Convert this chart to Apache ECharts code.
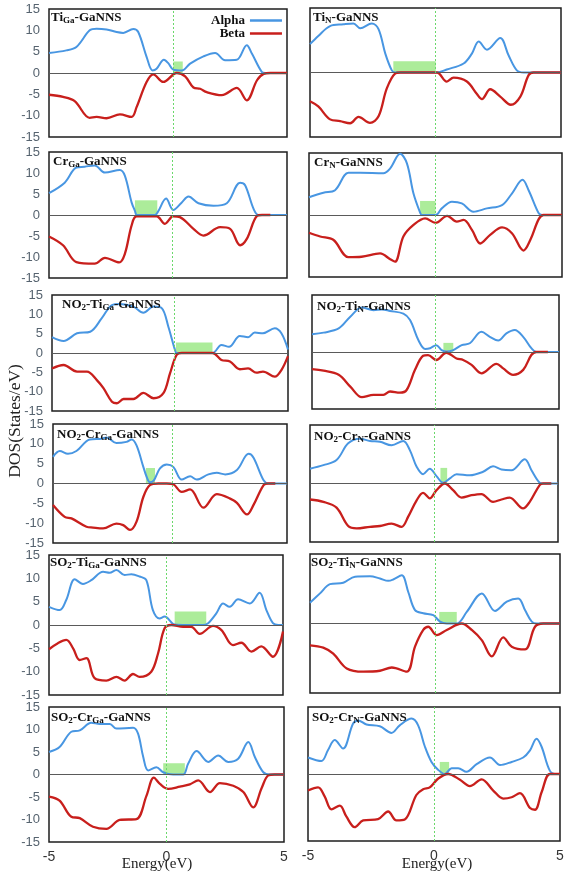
<!DOCTYPE html>
<html><head><meta charset="utf-8">
<script src="https://cdn.jsdelivr.net/npm/echarts@6/dist/echarts.min.js"></script>
<style>html,body{margin:0;padding:0;background:#fff}#c{width:567px;height:876px}</style>
</head><body><div id="c"></div>
<script>
// ---------------- DATA ----------------
const panelTitles = [
  'Ti{s|Ga}-GaNNS', 'Ti{s|N}-GaNNS',
  'Cr{s|Ga}-GaNNS', 'Cr{s|N}-GaNNS',
  'NO{b|2}-Ti{s|Ga}-GaNNS', 'NO{b|2}-Ti{s|N}-GaNNS',
  'NO{b|2}-Cr{s|Ga}-GaNNS', 'NO{b|2}-Cr{s|N}-GaNNS',
  'SO{b|2}-Ti{s|Ga}-GaNNS', 'SO{b|2}-Ti{s|N}-GaNNS',
  'SO{b|2}-Cr{s|Ga}-GaNNS', 'SO{b|2}-Cr{s|N}-GaNNS'
];
const seriesNames = ['Alpha', 'Beta'];
const yTickMin = -15, yTickMax = 15, yTickStep = 5;
const xTickMin = -5, xTickMax = 5, xTickStep = 5;
const fermiLevels = [0.2, 0, 0.18, 0, 0.18, 0, 0.1, 0, 0, 0, 0, 0];
const gapStart = [0.22, -1.68, -1.39, -0.61, 0.25, 0.32, -1.03, 0.26, 0.37, 0.17, -0.14, 0.23];
const gapEnd   = [0.62, 0.01, -0.45, 0.0, 1.8, 0.72, -0.64, 0.53, 1.72, 0.87, 0.78, 0.6];
const gapTop   = [2.7, 2.6, 3.5, 3.4, 2.7, 2.4, 3.9, 4.0, 2.9, 2.5, 2.5, 2.7];

const alphaTiGa = [[-5,4.7],[-4.27,5.3],[-3.85,6.1],[-3.29,10.0],[-3.0,10.4],[-2.58,10.2],[-2.16,9.6],[-1.88,9.4],[-1.46,10.3],[-1.25,9.6],[-0.9,3.8],[-0.65,0.6],[-0.48,1.0],[-0.17,3.1],[0.01,2.3],[0.22,0.8],[0.58,0.6],[0.93,2.2],[1.49,3.9],[1.98,4.7],[2.4,3.0],[2.89,3.1],[3.31,6.5],[3.53,4.5],[3.95,0.2],[4.09,0],[5,0]];
const betaTiGa = [[-5,-5.1],[-4.41,-5.6],[-3.92,-6.6],[-3.29,-10.5],[-3.0,-10.3],[-2.58,-10.6],[-2.02,-9.7],[-1.53,-10.3],[-1.32,-8.0],[-0.9,-2.1],[-0.62,-0.3],[-0.2,-2.1],[0.37,0],[0.72,-0.8],[1.07,-3.4],[1.35,-3.7],[1.63,-4.5],[2.26,-5.2],[2.89,-3.5],[3.31,-6.4],[3.74,-1.7],[4.02,-0.2],[4.3,0],[5,0]];

const alphaTiN = [[-5,6.6],[-4.67,8.5],[-4.2,10.8],[-3.67,11.2],[-3.27,11.4],[-3.0,10.3],[-2.54,11.4],[-2.27,10.1],[-2.0,4.4],[-1.74,0.5],[-1.6,0],[0.05,0],[0.45,0.7],[1.12,2.1],[1.45,4.4],[1.72,7.2],[2.05,5.3],[2.58,8.0],[2.91,4.0],[3.24,0.5],[3.51,0],[5,0]];
const betaTiN = [[-5,-6.7],[-4.67,-7.9],[-4.2,-10.9],[-3.8,-11.3],[-3.4,-11.8],[-3.07,-10.3],[-2.61,-11.7],[-2.27,-10.2],[-1.94,-3.7],[-1.6,-0.2],[-1.4,0],[0.05,0],[0.45,-2.1],[0.72,-1.2],[1.25,-2.1],[1.65,-5.0],[1.85,-6.2],[2.18,-3.9],[2.58,-5.6],[3.0,-7.5],[3.38,-5.6],[3.71,-0.6],[3.91,0],[5,0]];

const alphaCrGa = [[-5,5.2],[-4.34,7.7],[-3.85,11.3],[-3.5,11.5],[-3.08,11.8],[-2.65,10.1],[-2.02,10.7],[-1.81,9.3],[-1.53,3.0],[-1.39,1.0],[-1.3,0],[-0.55,0],[-0.42,0.8],[-0.08,3.9],[0.22,1.2],[0.58,3.0],[0.86,4.4],[1.28,2.8],[1.91,2.2],[2.47,2.8],[3.03,7.7],[3.24,7.1],[3.6,1.4],[3.81,0],[5,0]];
const betaCrGa = [[-5,-5.1],[-4.41,-7.2],[-3.85,-11.2],[-3.08,-11.6],[-2.65,-10.2],[-2.05,-11.3],[-1.81,-9.2],[-1.53,-2.5],[-1.32,-0.3],[-0.48,-0.3],[-0.13,-2.1],[0.22,-0.3],[0.5,-0.5],[1.07,-3.3],[1.49,-4.9],[2.19,-2.9],[2.61,-3.3],[3.03,-7.2],[3.31,-5.7],[3.74,-0.2],[3.95,0],[4.3,0]];

const alphaCrN = [[-5,4.3],[-4.43,5.4],[-3.97,6.0],[-3.44,10.2],[-2.98,10.2],[-2.06,10.1],[-1.79,11.3],[-1.4,14.8],[-1.13,12.5],[-0.87,5.2],[-0.61,0.6],[-0.54,0],[0.01,0],[0.25,1.6],[0.65,3.2],[1.04,2.8],[1.5,0.8],[2.03,1.6],[2.63,2.4],[3.02,5.2],[3.44,8.5],[3.68,6.0],[4.08,0.4],[4.21,0],[5,0]];
const betaCrN = [[-5,-4.3],[-4.56,-5.2],[-4.04,-6.0],[-3.44,-10.2],[-2.92,-10.1],[-2.19,-9.3],[-1.79,-10.7],[-1.6,-11.3],[-1.27,-5.2],[-0.87,-2.4],[-0.41,-0.8],[0.0,-1.9],[0.46,-0.2],[0.84,-1.6],[1.11,-1.2],[1.44,-3.6],[1.77,-6.9],[2.16,-4.8],[2.63,-3.0],[3.02,-4.4],[3.48,-8.6],[3.75,-6.0],[4.08,-1.0],[4.27,0],[5,0]];

const alphaNO2TiGa = [[-5,4.1],[-4.51,3.1],[-3.94,5.1],[-3.38,5.5],[-2.89,9.0],[-2.46,12.4],[-2.11,12.7],[-1.55,12.0],[-1.13,10.4],[-0.7,12.0],[-0.35,11.6],[-0.07,6.8],[0.21,0.8],[0.28,0],[1.8,0],[2.18,2.1],[2.5,1.6],[2.96,4.4],[3.31,4.1],[3.59,5.3],[3.94,5.1],[4.44,6.4],[4.72,5.1],[5,0.9]];
const betaNO2TiGa = [[-5,-4.0],[-4.51,-3.1],[-3.94,-4.8],[-3.52,-4.8],[-3.1,-7.0],[-2.82,-9.1],[-2.46,-12.6],[-2.25,-13.0],[-1.97,-11.9],[-1.55,-11.9],[-1.13,-10.3],[-0.7,-11.7],[-0.28,-10.4],[0,-5.3],[0.28,-0.5],[0.5,0],[1.8,0],[2.18,-1.8],[2.54,-2.2],[2.96,-4.2],[3.31,-4.0],[3.66,-5.1],[3.94,-4.8],[4.44,-6.1],[4.72,-4.4],[5,-0.8]];

const alphaNO2TiN = [[-5,4.7],[-4.53,5.1],[-3.92,6.2],[-3.45,9.3],[-2.98,11.7],[-2.51,11.0],[-2.17,11.2],[-1.84,10.8],[-1.3,10.1],[-1.03,8.4],[-0.69,3.1],[-0.42,0.8],[-0.22,1.0],[0.03,1.8],[0.25,0.5],[0.45,0.1],[0.72,0.5],[1.06,1.8],[1.39,2.3],[1.86,5.3],[2.2,4.0],[2.54,3.0],[2.87,4.9],[3.21,5.8],[3.55,4.0],[3.88,1.0],[4.08,0],[5,0]];
const betaNO2TiN = [[-5,-4.5],[-4.53,-4.9],[-3.92,-6.0],[-3.45,-9.1],[-2.98,-11.9],[-2.51,-11.3],[-2.11,-11.3],[-1.84,-10.4],[-1.44,-10.7],[-1.17,-10.0],[-0.83,-4.7],[-0.5,-1.0],[-0.3,-0.8],[0.03,-2.1],[0.44,-0.2],[0.85,-1.7],[1.12,-2.1],[1.46,-3.4],[1.86,-5.6],[2.47,-3.1],[2.74,-4.3],[3.14,-6.0],[3.55,-4.7],[3.88,-0.8],[4.08,0],[4.55,0]];

const alphaNO2CrGa = [[-5,6.7],[-4.71,8.2],[-4.36,7.5],[-4.0,8.2],[-3.43,11.1],[-2.93,11.3],[-2.71,11.6],[-2.29,10.2],[-1.86,10.5],[-1.64,11.1],[-1.43,9.6],[-1.14,4.2],[-1.0,1.7],[-0.86,0.3],[-0.69,0.8],[-0.43,3.8],[-0.14,4.8],[0.14,4.2],[0.5,1.0],[0.86,1.8],[1.14,1.0],[1.64,2.3],[2.0,2.7],[2.36,2.3],[2.86,3.4],[3.36,7.5],[3.57,6.5],[4.0,0.8],[4.21,0],[5,0]];
const betaNO2CrGa = [[-5,-5.4],[-4.5,-8.4],[-4.21,-8.8],[-3.57,-10.9],[-3.29,-11.1],[-2.86,-11.3],[-2.29,-10.1],[-2.0,-10.5],[-1.71,-11.7],[-1.43,-9.6],[-1.14,-3.4],[-0.86,-0.4],[-0.5,0],[-0.14,0],[0.14,-0.2],[0.5,-2.1],[0.86,-1.5],[1.43,-6.1],[2.0,-2.7],[2.57,-3.8],[2.86,-4.9],[3.29,-7.8],[3.57,-5.4],[4.0,-0.4],[4.2,0],[4.5,0]];

const alphaNO2CrN = [[-5,3.8],[-4.46,4.7],[-3.93,6.0],[-3.46,10.3],[-2.99,11.5],[-2.58,10.9],[-2.18,10.7],[-1.71,9.8],[-1.24,10.9],[-0.97,8.5],[-0.7,4.3],[-0.44,2.4],[-0.17,3.8],[0.1,1.9],[0.37,0.2],[0.64,1.3],[0.91,2.4],[1.44,2.1],[1.98,3.0],[2.38,4.4],[2.72,3.6],[3.12,3.4],[3.66,6.2],[3.93,3.4],[4.26,0.2],[4.4,0],[5,0]];
const betaNO2CrN = [[-5,-4.1],[-4.46,-4.7],[-3.93,-6.2],[-3.46,-10.9],[-3.12,-11.5],[-2.58,-11.1],[-2.18,-10.9],[-1.71,-10.3],[-1.31,-11.1],[-1.04,-8.5],[-0.7,-4.3],[-0.44,-2.4],[-0.17,-3.8],[0.1,-1.7],[0.44,0],[0.77,-1.7],[1.11,-3.6],[1.51,-3.0],[1.91,-2.7],[2.38,-4.7],[2.72,-4.1],[3.05,-3.6],[3.59,-6.4],[3.86,-4.7],[4.26,-0.4],[4.4,0],[4.73,0]];

const alphaSO2TiGa = [[-5,3.9],[-4.54,3.2],[-4.26,5.4],[-3.9,9.8],[-3.55,8.8],[-3.19,9.6],[-2.69,11.4],[-2.41,11.2],[-2.12,11.8],[-1.77,10.7],[-1.48,10.9],[-1.13,10.4],[-0.84,9.6],[-0.56,3.2],[-0.27,1.4],[-0.06,1.8],[0.37,0.1],[0.87,0],[1.58,0],[1.8,0.4],[2.15,2.5],[2.44,4.6],[2.72,3.9],[3.08,5.5],[3.58,4.6],[4.0,6.9],[4.29,3.2],[4.57,0.4],[4.8,0],[5,0]];
const betaSO2TiGa = [[-5,-5.2],[-4.62,-3.9],[-4.26,-3.2],[-3.97,-5.0],[-3.69,-7.5],[-3.4,-7.1],[-3.05,-11.4],[-2.55,-11.9],[-2.12,-11.1],[-1.77,-11.9],[-1.41,-10.5],[-1.13,-11.1],[-0.63,-10.0],[-0.34,-6.1],[-0.06,-0.7],[0.23,0],[0.73,-0.4],[1.08,-0.4],[1.44,-1.9],[2.01,-0.2],[2.37,-1.1],[2.86,-4.3],[3.22,-3.8],[3.65,-5.7],[4.07,-4.6],[4.57,-6.8],[5,-1.4]];

const alphaSO2TiN = [[-5,4.5],[-4.6,6.5],[-4.2,8.5],[-3.67,8.8],[-3.2,10.1],[-2.6,10.2],[-2.2,9.7],[-1.87,9.2],[-1.67,9.5],[-1.33,10.4],[-1.07,6.8],[-0.8,2.9],[-0.47,2.2],[-0.07,1.8],[0.2,0.4],[0.47,0],[0.87,0],[1.27,2.5],[1.87,6.5],[2.4,2.7],[2.87,4.7],[3.33,5.4],[3.6,2.9],[3.87,0.4],[4.07,0],[5,0]];
const betaSO2TiN = [[-5,-4.7],[-4.47,-5.2],[-4.07,-6.5],[-3.53,-9.7],[-2.87,-10.4],[-2.2,-10.2],[-1.73,-9.5],[-1.13,-10.4],[-0.8,-5.0],[-0.47,-1.4],[-0.27,-0.7],[0.07,-2.5],[0.47,-1.4],[1.07,0],[1.47,-1.4],[1.87,-3.6],[2.27,-7.1],[2.73,-3.0],[3.07,-5.0],[3.6,-5.6],[4.0,-0.7],[4.33,0],[5,0]];

const alphaSO2CrGa = [[-5,5.0],[-4.55,6.1],[-4.05,9.5],[-3.69,9.8],[-3.2,11.5],[-2.84,11.2],[-2.41,11.2],[-2.13,10.2],[-1.42,10.4],[-1.21,9.1],[-0.99,3.9],[-0.78,0.9],[-0.43,1.6],[-0.14,0.5],[0.28,0],[0.71,0],[0.92,2.4],[1.28,5.2],[1.78,2.8],[2.2,4.2],[2.63,2.8],[3.05,3.5],[3.48,7.2],[3.76,3.9],[4.12,0.5],[4.4,0],[5,0]];
const betaSO2CrGa = [[-5,-4.9],[-4.55,-5.8],[-4.05,-9.4],[-3.69,-9.7],[-3.13,-11.6],[-2.56,-12.1],[-1.99,-10.1],[-1.28,-9.9],[-0.85,-4.7],[-0.54,-0.7],[-0.28,-2.1],[0.07,-3.2],[0.57,-2.7],[0.99,-2.2],[1.35,-1.3],[1.85,-3.9],[2.27,-1.9],[2.84,-2.5],[3.27,-3.9],[3.69,-7.3],[4.05,-3.0],[4.33,-0.2],[4.6,0],[5,0]];

const alphaSO2CrN = [[-5,3.7],[-4.47,2.9],[-4.21,5.3],[-3.94,7.6],[-3.61,5.7],[-3.21,11.3],[-3.01,12.0],[-2.68,11.1],[-2.15,10.7],[-1.69,9.2],[-1.36,10.9],[-0.89,12.4],[-0.63,10.9],[-0.36,6.1],[-0.1,2.7],[0.17,0.9],[0.43,0],[0.7,1.3],[0.96,1.3],[1.29,0.5],[1.69,2.2],[2.22,3.7],[2.62,2.0],[3.08,2.7],[3.54,3.7],[3.81,5.3],[4.07,7.9],[4.27,6.1],[4.6,0.7],[4.87,0],[5,0]];
const betaSO2CrN = [[-5,-3.7],[-4.6,-3.0],[-4.34,-5.0],[-4.07,-7.9],[-3.74,-7.1],[-3.48,-9.5],[-3.15,-11.9],[-2.81,-10.4],[-2.22,-10.1],[-1.82,-8.4],[-1.49,-10.4],[-1.16,-10.2],[-0.7,-4.7],[-0.43,-3.4],[-0.17,-3.0],[0.17,-1.0],[0.56,0],[1.03,-1.3],[1.42,-2.7],[1.89,-1.2],[2.35,-3.7],[2.75,-5.5],[3.08,-5.2],[3.41,-4.3],[3.81,-7.6],[4.01,-8.0],[4.27,-4.1],[4.6,0],[5,0]];

const alphaSets = [alphaTiGa, alphaTiN, alphaCrGa, alphaCrN, alphaNO2TiGa, alphaNO2TiN, alphaNO2CrGa, alphaNO2CrN, alphaSO2TiGa, alphaSO2TiN, alphaSO2CrGa, alphaSO2CrN];
const betaSets  = [betaTiGa, betaTiN, betaCrGa, betaCrN, betaNO2TiGa, betaNO2TiN, betaNO2CrGa, betaNO2CrN, betaSO2TiGa, betaSO2TiN, betaSO2CrGa, betaSO2CrN];

// ---------------- LAYOUT ----------------
const boxes = [
  [49, 9, 238, 128], [310, 8, 251, 129],
  [49, 152, 238, 126], [309, 153, 253, 124],
  [52, 295, 236, 116], [312, 295, 247, 114],
  [53, 424, 234, 119], [310, 425, 248, 117],
  [49, 555, 234, 140], [310, 554, 250, 139],
  [49, 707, 235, 135], [308, 707, 252, 134]
];
const titleXY = [
  [51, 10], [313, 10], [53, 154], [314, 155], [62, 297], [317, 299],
  [57, 427], [314, 429], [50, 555], [311, 555], [51, 710], [312, 710]
];
const BLUE = '#4896e2', RED = '#c81f1c';
const serif = '"Liberation Serif", "DejaVu Serif", serif';

const grids = [], xAxes = [], yAxes = [], series = [], graphics = [];
boxes.forEach((b, i) => {
  const leftCol = i % 2 === 0, bottom = i >= 10;
  grids.push({left: b[0], top: b[1], width: b[2], height: b[3], show: true,
    borderColor: '#1e1e1e', borderWidth: 1.5, backgroundColor: 'transparent'});
  xAxes.push({type: 'value', gridIndex: i, min: xTickMin, max: xTickMax, interval: xTickStep,
    axisLine: {show: false}, axisTick: {show: false}, splitLine: {show: false},
    axisLabel: {show: bottom, fontSize: 14, color: '#333', margin: 8, fontFamily: '"Liberation Sans", sans-serif'}});
  yAxes.push({type: 'value', gridIndex: i, min: yTickMin, max: yTickMax, interval: yTickStep,
    axisLine: {show: false}, axisTick: {show: false}, splitLine: {show: false},
    axisLabel: {show: leftCol, fontSize: 13, color: '#56636f', margin: 9, fontFamily: '"Liberation Sans", sans-serif'}});
  series.push({type: 'line', xAxisIndex: i, yAxisIndex: i, data: [], z: 1, silent: true,
    markLine: {silent: true, symbol: 'none', animation: false, label: {show: false},
      data: [
        {yAxis: 0, lineStyle: {color: '#5a5a5a', width: 1, type: 'solid'}},
        {xAxis: fermiLevels[i], lineStyle: {color: '#6bd86b', width: 1, type: [2, 2]}}
      ]}});
  series.push({type: 'line', name: seriesNames[0], xAxisIndex: i, yAxisIndex: i, data: alphaSets[i],
    smooth: 0.35, symbol: 'none', showSymbol: false, z: 2, lineStyle: {color: BLUE, width: 2}, itemStyle: {color: BLUE}});
  series.push({type: 'line', name: seriesNames[1], xAxisIndex: i, yAxisIndex: i, data: betaSets[i],
    smooth: 0.35, symbol: 'none', showSymbol: false, z: 2, lineStyle: {color: RED, width: 2.3}, itemStyle: {color: RED}});
  series.push({type: 'line', xAxisIndex: i, yAxisIndex: i, data: [], z: 4, silent: true,
    markArea: {silent: true, itemStyle: {color: 'rgba(140,228,115,0.72)'},
      data: [[{xAxis: gapStart[i], yAxis: 0}, {xAxis: gapEnd[i], yAxis: gapTop[i]}]]}});
  graphics.push({type: 'text', left: titleXY[i][0], top: titleXY[i][1], z: 10,
    style: {text: panelTitles[i], fill: '#111', fontFamily: serif, fontWeight: 'bold', fontSize: 13, lineHeight: 15,
      rich: {
        s: {fontFamily: serif, fontWeight: 'bold', fontSize: 9, lineHeight: 13, verticalAlign: 'bottom', fill: '#111'},
        b: {fontFamily: serif, fontWeight: 'bold', fontSize: 9, lineHeight: 10, verticalAlign: 'bottom', fill: '#111'}
      }}});
});

graphics.push({type: 'text', x: 15, y: 421, rotation: Math.PI / 2,
  style: {text: 'DOS(States/eV)', fill: '#222', fontFamily: serif, fontSize: 17.5, align: 'center', verticalAlign: 'middle'}});
graphics.push({type: 'text', x: 157, y: 864,
  style: {text: 'Energy(eV)', fill: '#222', fontFamily: serif, fontSize: 15, align: 'center', verticalAlign: 'middle'}});
graphics.push({type: 'text', x: 437, y: 864,
  style: {text: 'Energy(eV)', fill: '#222', fontFamily: serif, fontSize: 15, align: 'center', verticalAlign: 'middle'}});

const chart = echarts.init(document.getElementById('c'), null, {renderer: 'canvas'});
chart.setOption({
  animation: false,
  backgroundColor: '#fff',
  grid: grids, xAxis: xAxes, yAxis: yAxes, series: series, graphic: graphics,
  legend: {data: seriesNames, orient: 'vertical', left: 206, top: 9, align: 'right',
    icon: 'rect', itemWidth: 32, itemHeight: 2.5, itemGap: 0, selectedMode: false,
    textStyle: {fontFamily: serif, fontWeight: 'bold', fontSize: 13, color: '#111', width: 38}}
});
</script></body></html>
